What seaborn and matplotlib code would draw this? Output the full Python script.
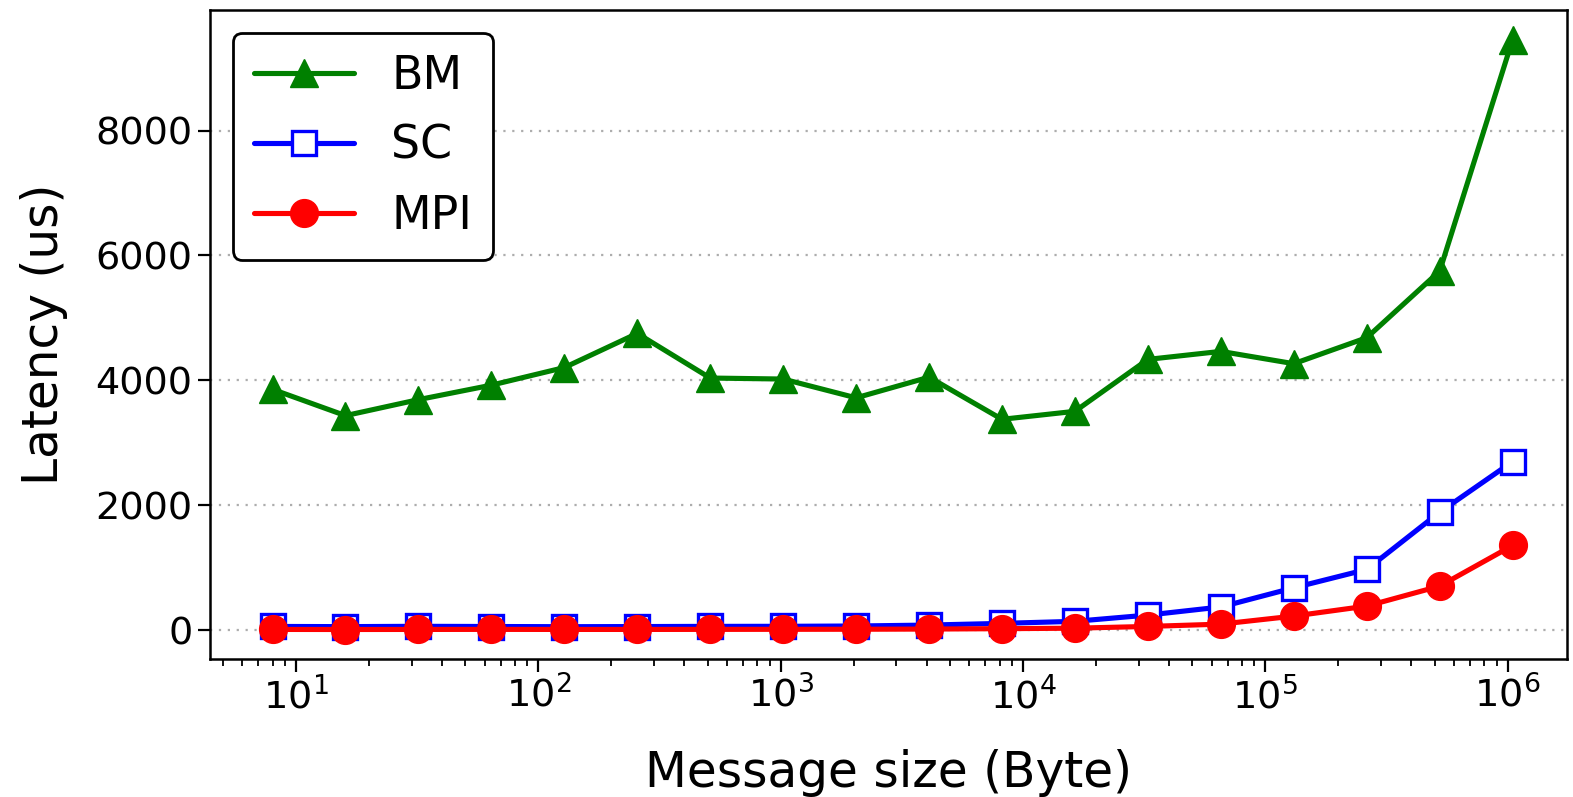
import numpy as np
import pandas as pd
import matplotlib
matplotlib.use("Agg")
import matplotlib.pyplot as plt
import seaborn as sns

# Message sizes 2^3 .. 2^20 bytes
sizes = [8, 16, 32, 64, 128, 256, 512, 1024, 2048, 4096, 8192, 16384,
         32768, 65536, 131072, 262144, 524288, 1048576]
# Latency in microseconds
bm = [3856, 3435, 3691, 3923, 4205, 4752, 4037, 4021, 3720, 4051, 3376, 3504,
      4336, 4464, 4267, 4683, 5750, 9460]
sc = [58, 55, 60, 57, 54, 56, 59, 60, 65, 80, 107, 140,
      240, 370, 677, 971, 1888, 2699]
mpi = [10, 9, 10, 11, 10, 10, 11, 12, 13, 16, 22, 30,
       58, 95, 224, 384, 704, 1355]

series_names = ["BM", "SC", "MPI"]
series_values = [bm, sc, mpi]

df = pd.concat(
    [pd.DataFrame({"size": sizes, "latency": v, "method": n})
     for n, v in zip(series_names, series_values)],
    ignore_index=True,
)

sns.set_style("ticks")
plt.rcParams["font.family"] = ["DejaVu Sans"]
plt.rcParams["text.color"] = "black"
plt.rcParams["axes.labelcolor"] = "black"
plt.rcParams["xtick.color"] = "black"
plt.rcParams["ytick.color"] = "black"

fig = plt.figure(figsize=(15.73, 7.97), dpi=100)
ax = fig.add_axes([210 / 1573, 1 - 659 / 797, (1567 - 210) / 1573, (659 - 10) / 797])

styles = {
    "BM": dict(color="green", marker="^", markersize=20, markeredgecolor="green",
               markerfacecolor="green", markeredgewidth=1.0),
    "SC": dict(color="blue", marker="s", markersize=17, markeredgecolor="blue",
               markerfacecolor="white", markeredgewidth=2.4),
    "MPI": dict(color="red", marker="o", markersize=20, markeredgecolor="red",
                markerfacecolor="red", markeredgewidth=1.0),
}

for name in series_names:
    sub = df[df["method"] == name]
    sns.lineplot(data=sub, x="size", y="latency", ax=ax, label=name,
                 linewidth=3.7, **styles[name])

ax.set_xscale("log")
ax.set_xlim(10 ** 0.645, 10 ** 6.245)
ax.set_yticks([0, 2000, 4000, 6000, 8000])
ax.yaxis.grid(True, linestyle=(0, (1, 3)), color="0.68", linewidth=1.6)
ax.xaxis.grid(False)

ax.set_xlabel("Message size (Byte)", fontsize=35, labelpad=24, color="black")
ax.set_ylabel("Latency (us)", fontsize=35, labelpad=20, color="black")
ax.tick_params(axis="both", which="major", labelsize=27.5, length=9, width=1.6,
               color="black", labelcolor="black", direction="out")
ax.tick_params(axis="x", which="minor", length=5, width=1.3, color="black")

for sp in ax.spines.values():
    sp.set_color("black")
    sp.set_linewidth(1.8)

leg = ax.legend(loc="upper left", fontsize=33, frameon=True, fancybox=True,
                framealpha=1.0, edgecolor="black", handlelength=2.2,
                handletextpad=0.8, labelspacing=0.55, borderpad=0.45)
leg.get_frame().set_linewidth(2.0)
for t in leg.get_texts():
    t.set_color("black")

fig.savefig("out.png", dpi=100)
